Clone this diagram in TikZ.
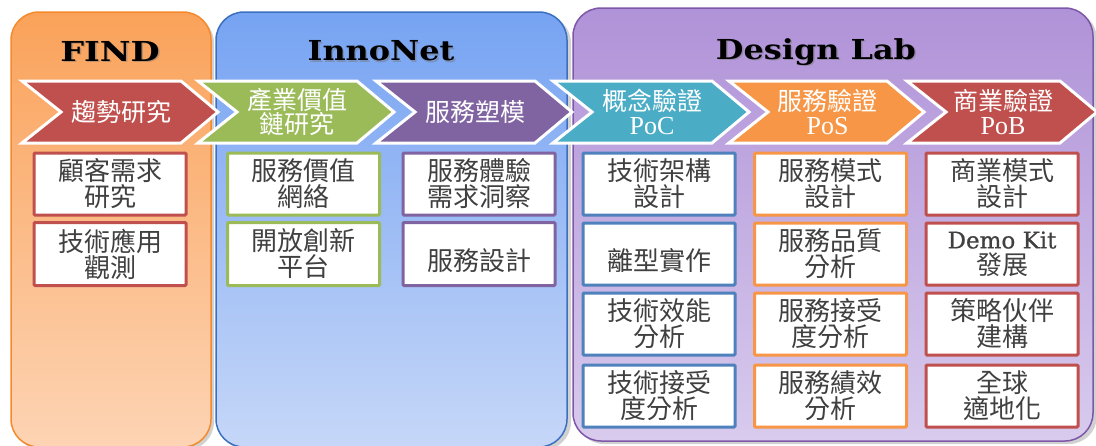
\documentclass[tikz,border=0pt]{standalone}
\usepackage{fontspec}
\setmainfont{Liberation Serif}
\newfontfamily\cjk{Noto Sans CJK TC}
\newfontfamily\titlefont{DejaVu Serif}
\newfontfamily\lat{Liberation Serif}
\newfontfamily\latb[FakeBold=0.8]{DejaVu Serif}
\definecolor{findtop}{HTML}{FAA25A}
\definecolor{findbot}{HTML}{FDD4B4}
\definecolor{findline}{HTML}{F58A2C}
\definecolor{innotop}{HTML}{76A3F2}
\definecolor{innobot}{HTML}{C6D7F8}
\definecolor{innoline}{HTML}{3B6FC0}
\definecolor{dltop}{HTML}{B092D8}
\definecolor{dlbot}{HTML}{D8CBED}
\definecolor{dlline}{HTML}{7E57A8}
\definecolor{cred}{HTML}{C0504D}
\definecolor{cgreen}{HTML}{9BBB59}
\definecolor{cpurple}{HTML}{8064A2}
\definecolor{cteal}{HTML}{4BACC6}
\definecolor{corange}{HTML}{F79646}
\definecolor{cblue}{HTML}{4F81BD}
\definecolor{txtgray}{HTML}{404040}
\tikzset{
  panelshadow/.style={fill=black, opacity=0.18, rounded corners=28pt},
  panel/.style={rounded corners=28pt, line width=1.5pt},
  titletext/.style={font=\titlefont\bfseries\fontsize{27.5}{30}\selectfont, inner sep=0pt},
  chevshape/.style={draw=white, line width=3pt, line join=miter},
  chevtext/.style={text=white, align=center, inner sep=0pt, font=\cjk\fontsize{25}{24}\selectfont},
  boxx/.style={draw=#1, line width=3pt, fill=white, rounded corners=1pt, minimum width=152pt, minimum height=62pt, inner sep=0pt, align=center, text=txtgray, font=\cjk\fontsize{26}{26}\selectfont}
}
\newcommand\chevron[5]{%
  \draw[chevshape, fill=#3] (#2,81) -- ({#2+#5-37},81) -- ({#2+#5},112) -- ({#2+#5-37},143) -- (#2,143) -- ({#2+39},112) -- cycle;
  \node[chevtext] (#1) at ({#2+#5/2+1},112) {#4};
}
\newcommand\paneltitle[5]{%
  \node[titletext, text=black!55, opacity=0.45] at ({#2+1.5},{#3+1.5}) {\scalebox{#5}[1]{#4}};
  \node[titletext] (#1) at (#2,#3) {\scalebox{#5}[1]{#4}};
}
\newcommand\low[1]{\raisebox{-7pt}[\height][\depth]{#1}}
\begin{document}
\begin{tikzpicture}[x=1pt,y=-1pt]
\useasboundingbox (0,0) rectangle (1096,445);
\fill[white] (0,0) rectangle (1096,445);
% panels
\fill[panelshadow] (14,15) rectangle (214,450);
\shade[panel, top color=findtop, bottom color=findbot, draw=findline] (11,12) rectangle (211,447);
\fill[panelshadow] (219,15) rectangle (571,450);
\shade[panel, top color=innotop, bottom color=innobot, draw=innoline] (216,12) rectangle (567,447);
\fill[panelshadow] (576,11) rectangle (1097,444);
\shade[panel, top color=dltop, bottom color=dlbot, draw=dlline] (573,8) rectangle (1093,441);
% titles
\paneltitle{tfind}{110}{51}{FIND}{1.22}
\paneltitle{tinno}{381}{51}{InnoNet}{1.16}
\paneltitle{tdl}{816}{52}{Design Lab}{1.16}
% chevrons
\chevron{c1}{22}{cred}{趨勢研究}{196}
\chevron{c2}{198}{cgreen}{產業價值\\鏈研究}{196}
\chevron{c3}{376}{cpurple}{服務塑模}{196}
\chevron{c4}{553}{cteal}{概念驗證\\{\lat\fontsize{26}{24}\selectfont PoC}}{196}
\chevron{c5}{729}{corange}{服務驗證\\{\lat\fontsize{26}{24}\selectfont PoS}}{195}
\chevron{c6}{907}{cred}{商業驗證\\{\lat\fontsize{26}{24}\selectfont PoB}}{190}
% FIND boxes
\node[boxx=cred] (f1) at (110,184) {顧客需求\\研究};
\node[boxx=cred, minimum height=63pt] (f2) at (110,254) {技術應用\\觀測};
% InnoNet boxes
\node[boxx=cgreen] (i1) at (303.5,184) {服務價值\\網絡};
\node[boxx=cgreen, minimum height=63pt] (i2) at (303.5,254) {開放創新\\平台};
\node[boxx=cpurple] (s1) at (479,184) {服務體驗\\需求洞察};
\node[boxx=cpurple, minimum height=63pt] (s2) at (479,254) {\low{服務設計}};
% Design Lab col 1
\node[boxx=cblue] (p1) at (659,184) {技術架構\\設計};
\node[boxx=cblue] (p2) at (659,254) {\low{離型實作}};
\node[boxx=cblue] (p3) at (659,324) {技術效能\\分析};
\node[boxx=cblue] (p4) at (659,396) {技術接受\\度分析};
% col 2
\node[boxx=corange] (q1) at (830.5,184) {服務模式\\設計};
\node[boxx=corange] (q2) at (830.5,254) {服務品質\\分析};
\node[boxx=corange] (q3) at (830.5,324) {服務接受\\度分析};
\node[boxx=corange] (q4) at (830.5,396) {服務績效\\分析};
% col 3
\node[boxx=cred] (b1) at (1002,184) {商業模式\\設計};
\node[boxx=cred] (b2) at (1002,254) {{\latb\fontsize{23}{26}\selectfont Demo Kit}\\發展};
\node[boxx=cred] (b3) at (1002,324) {策略伙伴\\建構};
\node[boxx=cred] (b4) at (1002,396) {全球\\適地化};
\end{tikzpicture}
\end{document}
